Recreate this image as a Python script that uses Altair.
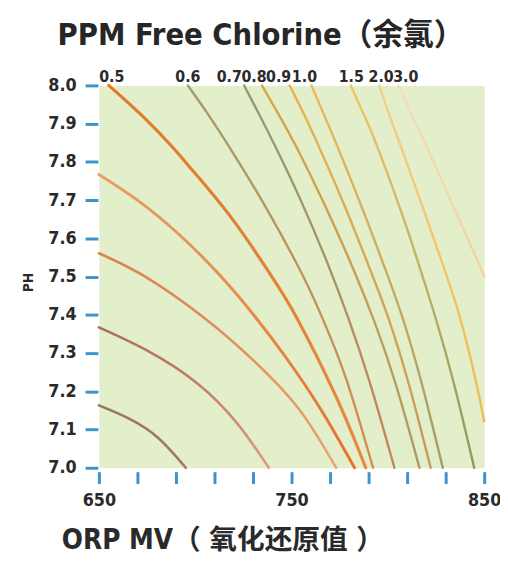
import altair as alt
import pandas as pd

# ---------------- data (ORP mV, pH) ----------------
curve_ids = ["L716", "L737", "L756", "L776", "0.5", "0.6", "0.7", "0.8",
             "0.9", "1.0", "1.5", "2.0", "3.0"]

orp = {
    "L716": [650, 665.4, 680.8, 695.1],
    "L737": [650, 675.6, 701.3, 721.8, 738.2],
    "L756": [650, 673.6, 704.4, 729.5, 753.6, 773.1],
    "L776": [650, 670.5, 691.2, 712.7, 731.4, 747.0, 764.9, 782.7],
    "0.5": [655.1, 673.6, 688.5, 697.2, 719.2, 739.2, 752.6, 773.1, 788.5],
    "0.6": [696.2, 706.6, 719.2, 737.7, 755.7, 766.3, 778.3, 792.3],
    "0.7": [725.4, 733.1, 741.6, 754.9, 768.5, 779.7, 790.8, 803.4],
    "0.8": [734.6, 743.2, 752.4, 768.2, 782.7, 793.0, 804.0, 816.4],
    "0.9": [749.0, 756.4, 764.9, 778.6, 791.9, 800.5, 810.8, 822.2],
    "1.0": [760.3, 766.7, 774.9, 787.6, 799.8, 807.9, 817.6, 828.5],
    "1.5": [780.8, 787.4, 793.5, 807.1, 817.8, 825.0, 834.3, 844.8],
    "2.0": [795.6, 800.6, 806.4, 819.1, 830.4, 837.7, 845.4, 850.0],
    "3.0": [805.4, 812.6, 819.7, 830.0, 839.7, 850.0],
}
ph = {
    "L716": [7.163, 7.129, 7.078, 7.0],
    "L737": [7.367, 7.305, 7.220, 7.116, 7.0],
    "L756": [7.561, 7.501, 7.393, 7.284, 7.155, 7.0],
    "L776": [7.767, 7.698, 7.612, 7.504, 7.393, 7.289, 7.155, 7.0],
    "0.5": [8.0, 7.915, 7.837, 7.786, 7.651, 7.504, 7.393, 7.186, 7.0],
    "0.6": [8.0, 7.925, 7.827, 7.672, 7.504, 7.388, 7.233, 7.0],
    "0.7": [8.0, 7.925, 7.840, 7.698, 7.537, 7.388, 7.220, 7.0],
    "0.8": [8.0, 7.925, 7.840, 7.677, 7.512, 7.382, 7.220, 7.0],
    "0.9": [8.0, 7.925, 7.832, 7.672, 7.504, 7.388, 7.220, 7.0],
    "1.0": [8.0, 7.925, 7.827, 7.667, 7.504, 7.388, 7.220, 7.0],
    "1.5": [8.0, 7.925, 7.853, 7.667, 7.504, 7.388, 7.220, 7.0],
    "2.0": [8.0, 7.925, 7.845, 7.667, 7.504, 7.388, 7.233, 7.121],
    "3.0": [8.0, 7.922, 7.845, 7.729, 7.620, 7.501],
}

# top labels (free chlorine, ppm)
label_text = ["0.5", "0.6", "0.7", "0.8", "0.9", "1.0", "1.5", "2.0", "3.0"]
label_orp = [656.7, 696.2, 717.7, 730.5, 743.3, 756.7, 781.0, 796.5, 809.3]
label_ph = [8.0] * 9

ph_ticks = [7.0, 7.1, 7.2, 7.3, 7.4, 7.5, 7.6, 7.7, 7.8, 7.9, 8.0]
orp_ticks = [650, 670, 690, 710, 730, 750, 770, 790, 810, 830, 850]

# ---------------- styles ----------------
colors = {
    "L716": ("#9a7266", "#a87864"),
    "L737": ("#ad6c5a", "#dba07e"),
    "L756": ("#d8844c", "#e7a57a"),
    "L776": ("#e6a064", "#e8702a"),
    "0.5": ("#dd7c2a", "#e98a44"),
    "0.6": ("#a29c6c", "#d98a50"),
    "0.7": ("#8e9c76", "#c98654"),
    "0.8": ("#dca444", "#ad9a66"),
    "0.9": ("#e9b24e", "#c59a5a"),
    "1.0": ("#ecbb5c", "#a39b6a"),
    "1.5": ("#f1c46c", "#8e9a5e"),
    "2.0": ("#f3d08a", "#efbb52"),
    "3.0": ("#f3dcc0", "#f2d59a"),
}
widths = {"L716": 2.6, "L737": 2.6, "L756": 2.6, "L776": 3.0, "0.5": 3.2}

FONT = "'DejaVu Sans Condensed', 'Noto Sans CJK SC', sans-serif"
TICK = "#3d93cc"
TEXT = "#2a2a2a"

rows = []
for c in curve_ids:
    for i, (o, p) in enumerate(zip(orp[c], ph[c])):
        rows.append({"curve": c, "orp": o, "ph": p, "i": i})
df = pd.DataFrame(rows)

labels_df = pd.DataFrame({"text": label_text, "orp": label_orp, "ph": label_ph})

x_enc = alt.X(
    "orp:Q",
    scale=alt.Scale(domain=[650, 850], nice=False, zero=False),
    axis=alt.Axis(
        values=orp_ticks,
        labelExpr="datum.value % 100 == 50 ? datum.label : ''",
        labelOverlap=False, labelFlush=False,
        domain=False, grid=False,
        tickColor=TICK, tickWidth=3, tickSize=12, offset=4,
        labelFont=FONT, labelFontSize=18, labelFontWeight="bold",
        labelColor=TEXT, labelPadding=8,
        title="ORP MV（ 氧化还原值 ）",
        titleFont=FONT, titleFontSize=28, titleFontWeight="bold",
        titleColor=TEXT, titleAlign="left", titleBaseline="alphabetic",
        titleX=-38, titleY=78,
    ),
)
y_enc = alt.Y(
    "ph:Q",
    scale=alt.Scale(domain=[7.0, 8.0], nice=False, zero=False),
    axis=alt.Axis(
        values=ph_ticks, format=".1f",
        labelOverlap=False, labelFlush=False,
        domain=False, grid=False,
        tickColor=TICK, tickWidth=3, tickSize=13, offset=1,
        labelFont=FONT, labelFontSize=18, labelFontWeight="bold",
        labelColor=TEXT, labelPadding=9,
        title="PH",
        titleFont=FONT, titleFontSize=14, titleFontWeight="bold",
        titleColor=TEXT, titleAngle=270, titleAlign="center",
        titleBaseline="middle", titleX=-70, titleY=199,
    ),
)

layers = []
for c in curve_ids:
    top, bottom = colors[c]
    grad = alt.Gradient(
        gradient="linear",
        stops=[alt.GradientStop(color=top, offset=0),
               alt.GradientStop(color=bottom, offset=1)],
        x1=0, y1=0, x2=0, y2=1,
    )
    layers.append(
        alt.Chart(df)
        .transform_filter(alt.datum.curve == c)
        .mark_line(interpolate="natural", strokeWidth=widths.get(c, 2.4),
                   strokeCap="round", color=grad)
        .encode(x=x_enc, y=y_enc, order="i:Q")
    )

text_layer = (
    alt.Chart(labels_df)
    .mark_text(font=FONT, fontSize=16, fontWeight="bold", color=TEXT,
               baseline="alphabetic", align="center", dy=-3)
    .encode(x=x_enc, y=y_enc, text="text:N")
)
layers.append(text_layer)

chart = (
    alt.layer(*layers)
    .properties(
        width=390, height=387,
        title=alt.TitleParams(
            "PPM Free Chlorine（余氯）",
            font=FONT, fontSize=31, fontWeight="bold", color="#262626",
            anchor="middle", dx=-31, offset=18,
        ),
        padding={"left": 92, "top": 75, "right": 16, "bottom": 87},
        autosize=alt.AutoSizeParams(type="none"),
        background="white",
    )
    .configure_view(fill="#e3efca", stroke="transparent")
)

chart.save("out.html", embed_options={"renderer": "svg", "actions": False})
